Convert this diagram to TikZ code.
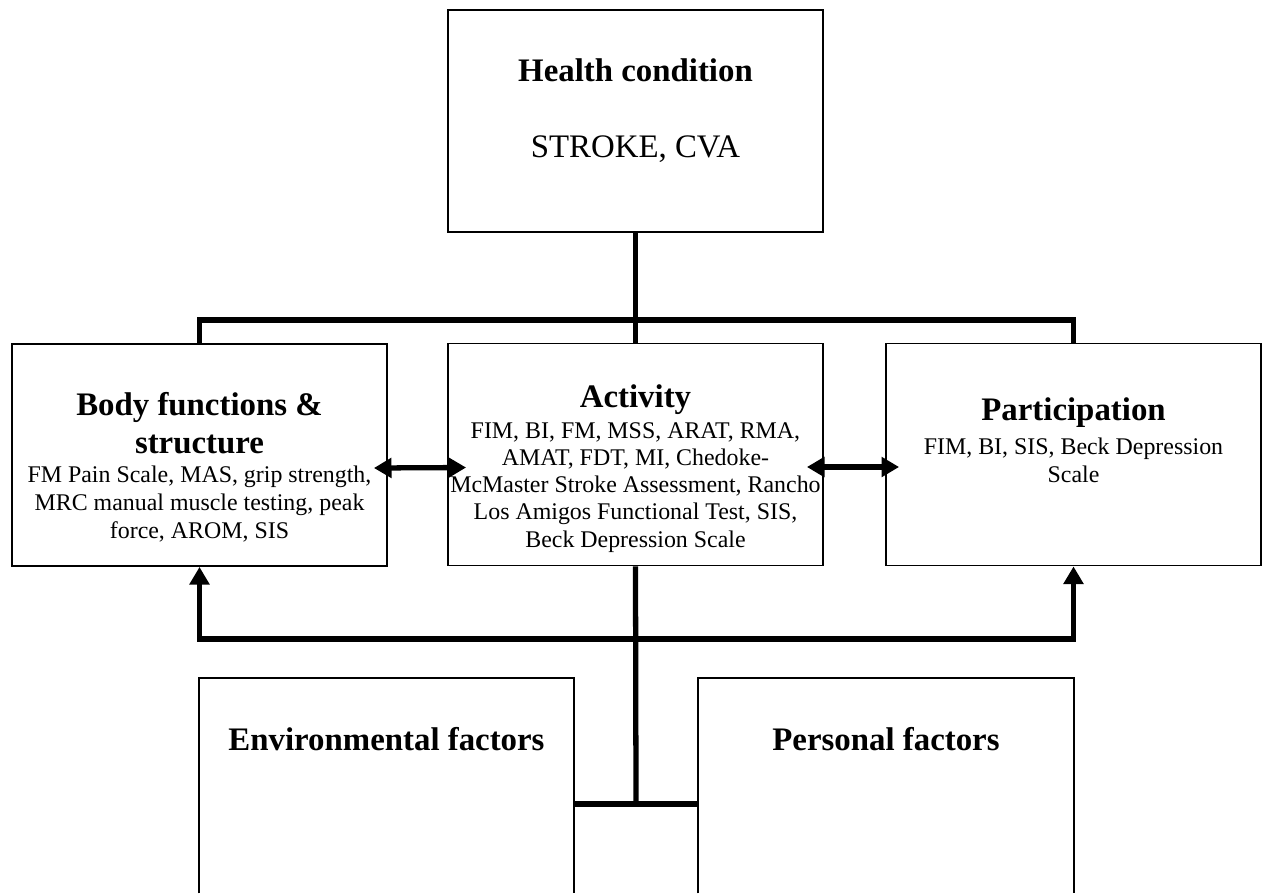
\documentclass[tikz,border=0pt]{standalone}
\usepackage{fontspec}
\setmainfont{Liberation Serif}
\usepackage{tikz}
\usetikzlibrary{arrows.meta}

\begin{document}
\begin{tikzpicture}[x=0.02cm,y=-0.02cm,
  >={Triangle[length=10pt,width=11pt]},
  box/.style={draw,line width=1.1pt,minimum width=7.5cm,minimum height=4.44cm,inner sep=0pt},
  frame/.style={minimum width=7.5cm,minimum height=4.3cm,inner sep=0pt},
  link/.style={line width=3pt},
  head/.style={font=\fontsize{18.7}{21.5}\selectfont\bfseries,align=center,inner sep=0pt,anchor=base},
  list/.style={font=\fontsize{13.6}{15.7}\selectfont,align=center,inner sep=0pt,anchor=base}]

\useasboundingbox (0,0) rectangle (1264,893);

\begin{scope}
\node[box] (health) at (635.5,121) {};
\node[box] (body) at (199.5,455) {};
\node[box] (act) at (635.5,454.5) {};
\node[box] (part) at (1073.5,454.5) {};
\node[frame] (env) at (386.5,785.5) {};
\node[frame] (pers) at (886,785.5) {};
\end{scope}

% texts (base = last line)
\node[head] (health head) at (635.5,81) {Health condition};
\node[head,font=\fontsize{18.7}{21.5}\selectfont] (health list) at (635.5,157) {STROKE, CVA};
\node[head] (body head) at (199.5,453) {Body functions \&\\structure};
\node[list] (body list) at (199.5,538) {FM Pain Scale, MAS, grip strength,\\MRC manual muscle testing, peak\\force, AROM, SIS};
\node[head] (act head) at (635.5,407) {Activity};
\node[list,font=\fontsize{13.6}{15.5}\selectfont] (act list) at (635.5,547) {FIM, BI, FM, MSS, ARAT, RMA,\\AMAT, FDT, MI, Chedoke-\\McMaster Stroke Assessment, Rancho\\Los Amigos Functional Test, SIS,\\Beck Depression Scale};
\node[head] (part head) at (1073.5,420) {Participation};
\node[list] (part list) at (1073.5,482) {FIM, BI, SIS, Beck Depression\\Scale};
\node[head] (env head) at (386.5,750) {Environmental factors};
\node[head] (pers head) at (886,750) {Personal factors};

% open boxes at the bottom
\draw[line width=1.1pt] (env.south west) |- (env.north east) -- (env.south east);
\draw[line width=1.1pt] (pers.south west) |- (pers.north east) -- (pers.south east);

\begin{scope}
\coordinate (top) at (636,320);
\coordinate (bot) at (636,639);
\coordinate (mid) at (636,804);
\draw[link] (health.south) -- (act.north);
\draw[link] (body.north) |- (top) -| (part.north);
\draw[link,<->] (body.south) |- (bot) -| (part.south);
\draw[link] (act.south) -- (mid);
\draw[link] (mid -| env.east) -- (mid -| pers.west);
\draw[link,<->] ([shift={(-14,13)}]body.east) -- ([shift={(19,13)}]act.west);
\draw[link,<->] ([shift={(-17,12.5)}]act.east) -- ([shift={(14,12.5)}]part.west);
\end{scope}

\end{tikzpicture}
\end{document}
